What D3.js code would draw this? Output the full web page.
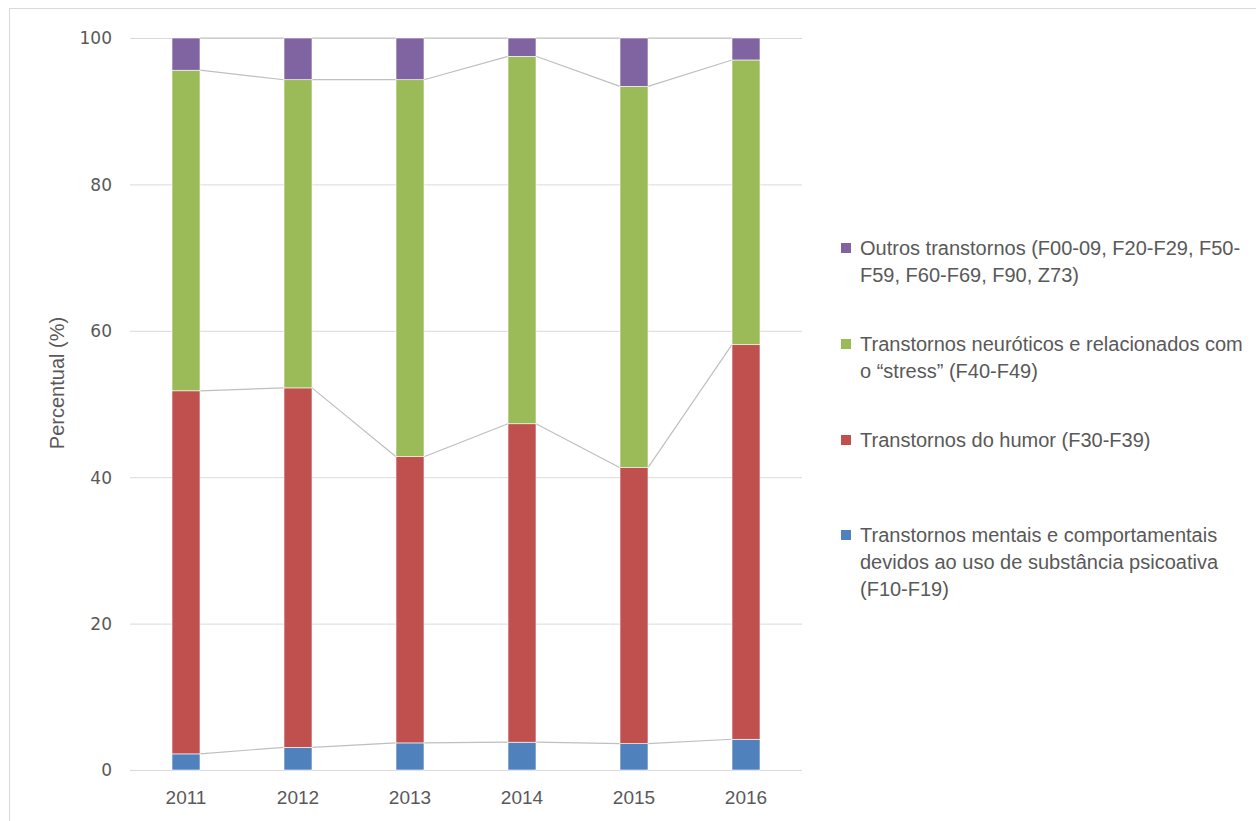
<!DOCTYPE html>
<html><head><meta charset="utf-8">
<script src="https://cdn.jsdelivr.net/npm/d3@7"></script>
<style>body{margin:0;background:#fff}</style>
</head><body>
<svg id="c" width="1256" height="821"></svg>
<script>
const years = ["2011","2012","2013","2014","2015","2016"];
const seriesNames = [
  "Transtornos mentais e comportamentais devidos ao uso de substância psicoativa (F10-F19)",
  "Transtornos do humor (F30-F39)",
  "Transtornos neuróticos e relacionados com o \u201cstress\u201d (F40-F49)",
  "Outros transtornos (F00-09, F20-F29, F50-F59, F60-F69, F90, Z73)"
];
const substancia = [2.2, 3.1, 3.7, 3.8, 3.6, 4.2];
const humor      = [49.6, 49.1, 39.1, 43.5, 37.7, 53.9];
const neuroticos = [43.8, 42.1, 51.5, 50.2, 52.1, 38.9];
const outros     = [4.4, 5.7, 5.7, 2.5, 6.6, 3.0];
const yTicks = [0, 20, 40, 60, 80, 100];
const legendLines = [
  ["Outros transtornos (F00-09, F20-F29, F50-", "F59, F60-F69, F90, Z73)"],
  ["Transtornos neuróticos e relacionados com", "o \u201cstress\u201d (F40-F49)"],
  ["Transtornos do humor (F30-F39)"],
  ["Transtornos mentais e comportamentais", "devidos ao uso de substância psicoativa", "(F10-F19)"]
];
const colors = ["#4F81BD", "#C0504D", "#9BBB59", "#8064A2"];

const svg = d3.select("#c");
svg.append("rect").attr("x",9.5).attr("y",8.5).attr("width",1260).attr("height",830)
  .attr("fill","none").attr("stroke","#d9d9d9");

const x = d3.scaleBand().domain(years).range([130, 802]).paddingInner(0.75).paddingOuter(0.375);
const y = d3.scaleLinear().domain([0,100]).range([770, 38]);

// gridlines
svg.append("g").selectAll("line").data(yTicks).join("line")
  .attr("x1",130).attr("x2",802).attr("y1",d=>y(d)+0.5).attr("y2",d=>y(d)+0.5)
  .attr("stroke","#d9d9d9").attr("stroke-width",1);

// y tick labels
const yAxis = d3.axisLeft(y).tickValues(yTicks).tickSize(0).tickPadding(0);
const ga = svg.append("g").attr("transform","translate(112,0)").call(yAxis);
ga.select(".domain").remove();
ga.selectAll("text").attr("font-family","DejaVu Sans").attr("font-size",17).attr("fill","#595959").attr("dy","0.35em");

// x labels
const xAxis = d3.axisBottom(x).tickSize(0).tickPadding(0);
const gx = svg.append("g").attr("transform","translate(0,790)").call(xAxis);
gx.select(".domain").remove();
gx.selectAll("text").attr("font-family","Liberation Sans").attr("font-size",19).attr("fill","#595959").attr("dy","0.71em");

// stack
const data = years.map((yr,i)=>({year:yr, s0:substancia[i], s1:humor[i], s2:neuroticos[i], s3:outros[i]}));
const stack = d3.stack().keys(["s0","s1","s2","s3"])(data);

// series connector lines
const bw = x.bandwidth();
stack.forEach(layer=>{
  const segs = [];
  for(let i=0;i<layer.length-1;i++){
    segs.push([x(years[i])+bw, y(layer[i][1]), x(years[i+1]), y(layer[i+1][1])]);
  }
  svg.append("g").selectAll("line").data(segs).join("line")
    .attr("x1",d=>d[0]).attr("y1",d=>d[1]).attr("x2",d=>d[2]).attr("y2",d=>d[3])
    .attr("stroke","#bfbfbf").attr("stroke-width",1.2);
});

stack.forEach((layer,k)=>{
  svg.append("g").selectAll("rect").data(layer).join("rect")
    .attr("x",d=>x(d.data.year)).attr("width",bw)
    .attr("y",d=>y(d[1])).attr("height",d=>y(d[0])-y(d[1]))
    .attr("fill",colors[k]).attr("stroke","#ffffff").attr("stroke-width",0.6);
});

// y title
svg.append("text").attr("transform","translate(64,383) rotate(-90)")
  .attr("text-anchor","middle").attr("font-family","Liberation Sans")
  .attr("font-size",20).attr("fill","#595959").text("Percentual (%)");

// legend
const legendTop = [248, 344, 440, 535];
const legendColors = [colors[3], colors[2], colors[1], colors[0]];
legendLines.forEach((lines,i)=>{
  const g = svg.append("g");
  g.append("rect").attr("x",841).attr("y",legendTop[i]-5).attr("width",10).attr("height",10).attr("fill",legendColors[i]);
  lines.forEach((t,j)=>{
    g.append("text").attr("x",860).attr("y",legendTop[i]+j*27).attr("dy","0.35em")
      .attr("font-family","Liberation Sans").attr("font-size",20)
      .attr("fill","#595959").text(t);
  });
});
</script>
</body></html>
